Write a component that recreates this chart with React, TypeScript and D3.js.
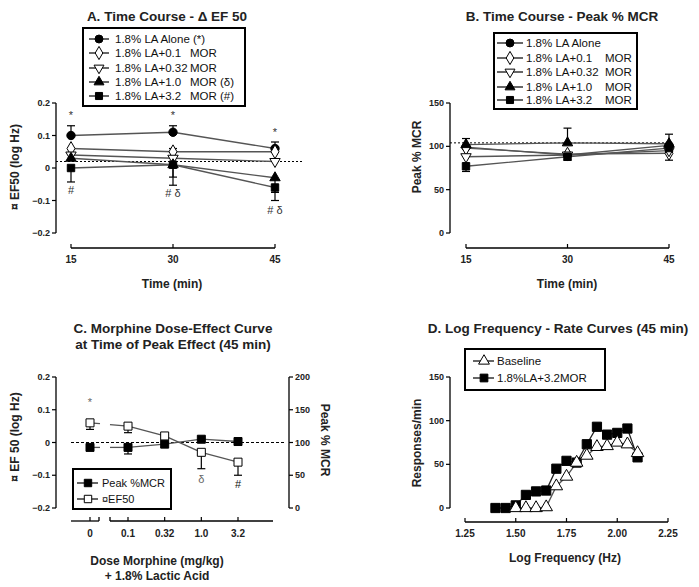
import React from "react";
import * as d3 from "d3";

// ---------- Data ----------
const timePoints = [15, 30, 45];
const seriesA = [
  { name: "1.8% LA Alone (*)", tag: "", sym: "circle", fill: true, values: [0.1, 0.11, 0.06] },
  { name: "1.8% LA+0.1", tag: "MOR", sym: "diamond", fill: false, values: [0.06, 0.05, 0.05] },
  { name: "1.8% LA+0.32", tag: "MOR", sym: "triDown", fill: false, values: [0.04, 0.03, 0.02] },
  { name: "1.8% LA+1.0", tag: "MOR (δ)", sym: "triUp", fill: true, values: [0.03, 0.01, -0.03] },
  { name: "1.8% LA+3.2", tag: "MOR (#)", sym: "square", fill: true, values: [0.0, 0.01, -0.06] },
];
// error bar ends: [seriesIndex, timeIndex, endValue]
const errorsA: [number, number, number][] = [
  [0, 0, 0.13], [0, 1, 0.13], [0, 2, 0.08],
  [1, 1, 0.06],
  [3, 1, -0.028], [3, 2, -0.075],
  [4, 0, -0.043], [4, 1, -0.053], [4, 2, -0.1],
];
const annotA: [number, number, string][] = [
  [15, 0.152, "*"], [30, 0.152, "*"], [45, 0.1, "*"],
  [15, -0.08, "#"], [30, -0.09, "# δ"], [45, -0.142, "# δ"],
];
const ticksA = [0.2, 0.1, 0, -0.1, -0.2];

const seriesB = [
  { name: "1.8% LA Alone", tag: "", sym: "circle", fill: true, values: [99, 90, 101] },
  { name: "1.8% LA+0.1", tag: "MOR", sym: "diamond", fill: false, values: [98, 91, 92] },
  { name: "1.8% LA+0.32", tag: "MOR", sym: "triDown", fill: false, values: [88, 90, 95] },
  { name: "1.8% LA+1.0", tag: "MOR", sym: "triUp", fill: true, values: [102, 104, 103] },
  { name: "1.8% LA+3.2", tag: "MOR", sym: "square", fill: true, values: [77, 88, 98] },
];
const errorsB: [number, number, number][] = [
  [3, 0, 109], [3, 1, 121], [3, 2, 114],
  [1, 2, 84], [4, 0, 71], [4, 1, 84],
];
const ticksB = [0, 50, 100, 150];

const dosesC = ["0", "0.1", "0.32", "1.0", "3.2"];
const peakMcrC = [92.5, 92.5, 97.5, 105, 101.5];
const peakMcrErrC: [number, number][] = [[1, 82.5]];
const ef50C = [0.06, 0.05, 0.02, -0.03, -0.06];
const ef50ErrC: [number, number][] = [[0, 0.04], [1, 0.03], [3, -0.08], [4, -0.1]];
const annotC: [number, number, string][] = [[0, 0.11, "*"], [3, -0.125, "δ"], [4, -0.14, "#"]];
const ticksCLeft = [0.2, 0.1, 0, -0.1, -0.2];
const ticksCRight = [0, 50, 100, 150, 200];

const freqBase = [1.5, 1.55, 1.6, 1.65, 1.7, 1.75, 1.8, 1.85, 1.9, 1.95, 2.0, 2.05, 2.1];
const rateBase = [0, 0, 0, 1, 25, 36, 52, 60, 70, 71, 75, 73, 63];
const freqDrug = [1.4, 1.45, 1.5, 1.55, 1.6, 1.65, 1.7, 1.75, 1.8, 1.85, 1.9, 1.95, 2.0, 2.05, 2.1];
const rateDrug = [0, 0, 3, 15, 19, 20, 45, 54, 52, 73, 93, 84, 86, 91, 58];
const ticksDx = [1.25, 1.5, 1.75, 2.0, 2.25];
const ticksDy = [0, 50, 100, 150];

// ---------- helpers ----------
const FONT = "'Liberation Sans', Arial, sans-serif";
const LINE = "#555";

function symPath(sym: string, size: number) {
  const t: any = {
    circle: d3.symbolCircle,
    diamond: d3.symbolDiamond,
    triUp: d3.symbolTriangle,
    triDown: d3.symbolTriangle,
    square: d3.symbolSquare,
  }[sym];
  const s = sym === "triUp" || sym === "triDown" ? size * 0.85 : size;
  return d3.symbol(t, s)()!;
}

function Marker({ x, y, sym, fill, size = 60 }: any) {
  const rot = sym === "triDown" ? ` rotate(180)` : "";
  return (
    <path
      d={symPath(sym, size)}
      transform={`translate(${x},${y})${rot}`}
      fill={fill ? "#000" : "#fff"}
      stroke="#000"
      strokeWidth={1}
    />
  );
}

function ErrBar({ x, y0, y1, cap = 8 }: any) {
  return (
    <g stroke="#000" strokeWidth={1.2}>
      <line x1={x} x2={x} y1={y0} y2={y1} />
      <line x1={x - cap / 2} x2={x + cap / 2} y1={y1} y2={y1} />
    </g>
  );
}

function YAxis({ x, scale, ticks, fmt, side = "left" }: any) {
  const [a, b] = scale.range();
  const dir = side === "left" ? -1 : 1;
  return (
    <g>
      <line x1={x} x2={x} y1={a} y2={b} stroke="#000" strokeWidth={1.3} />
      {ticks.map((t: number) => (
        <g key={t}>
          <line x1={x} x2={x + dir * 4} y1={scale(t)} y2={scale(t)} stroke="#000" strokeWidth={1.2} />
          <text
            x={x + dir * 6}
            y={scale(t) + 3}
            textAnchor={side === "left" ? "end" : "start"}
            fontSize={9}
            fontWeight="bold"
            fill="#222"
            fontFamily={FONT}
          >
            {fmt(t)}
          </text>
        </g>
      ))}
    </g>
  );
}

function XAxis({ y, scale, ticks, fmt }: any) {
  const [a, b] = scale.range();
  return (
    <g>
      <line x1={a} x2={b} y1={y} y2={y} stroke="#000" strokeWidth={1.3} />
      {ticks.map((t: number) => (
        <g key={t}>
          <line x1={scale(t)} x2={scale(t)} y1={y} y2={y - 4} stroke="#000" strokeWidth={1.2} />
          <text x={scale(t)} y={y + 15} textAnchor="middle" fontSize={10} fontWeight="bold" fill="#222" fontFamily={FONT}>
            {fmt(t)}
          </text>
        </g>
      ))}
    </g>
  );
}

function Legend({ x, y, w, h, items, lineX0, lineX1, markX, textX, tagX, rowY, size = 60, fs = 11.5 }: any) {
  return (
    <g>
      <rect x={x} y={y} width={w} height={h} fill="#fff" stroke="#000" strokeWidth={2} />
      {items.map((it: any, i: number) => (
        <g key={i}>
          <line x1={lineX0} x2={lineX1} y1={rowY[i]} y2={rowY[i]} stroke="#000" strokeWidth={1.2} />
          <Marker x={markX} y={rowY[i]} sym={it.sym} fill={it.fill} size={size} />
          <text x={textX} y={rowY[i] + 4} fontSize={fs} fill="#111" fontFamily={FONT}>
            {it.name}
          </text>
          {it.tag ? (
            <text x={tagX} y={rowY[i] + 4} fontSize={fs} fill="#111" fontFamily={FONT}>
              {it.tag}
            </text>
          ) : null}
        </g>
      ))}
    </g>
  );
}

const fmtA = (t: number) => (t === 0 ? "0" : d3.format(".1f")(t));

// ---------- Panels ----------
function PanelA() {
  const x = d3.scaleLinear().domain([15, 45]).range([71, 275]);
  const y = d3.scaleLinear().domain([-0.2, 0.2]).range([233, 103]);
  const line = d3.line<number>().x((_, i) => x(timePoints[i])).y((v) => y(v));
  return (
    <g>
      <text x={167} y={21} textAnchor="middle" fontSize={13.5} fontWeight="bold" fill="#222" fontFamily={FONT}>
        A. Time Course - Δ EF 50
      </text>
      <line x1={56} x2={302} y1={y(0.02)} y2={y(0.02)} stroke="#000" strokeDasharray="2,2" strokeWidth={1} />
      {seriesA.map((s, i) => (
        <path key={i} d={line(s.values)!} fill="none" stroke={LINE} strokeWidth={1.3} />
      ))}
      {errorsA.map(([si, ti, e], k) => (
        <ErrBar key={k} x={x(timePoints[ti])} y0={y(seriesA[si].values[ti])} y1={y(e)} />
      ))}
      {seriesA.map((s, i) =>
        s.values.map((v, j) => <Marker key={`${i}-${j}`} x={x(timePoints[j])} y={y(v)} sym={s.sym} fill={s.fill} size={55} />)
      )}
      {annotA.map(([t, v, s], k) => (
        <text key={k} x={x(t)} y={y(v)} textAnchor="middle" fontSize={11} fill="#333" fontFamily={FONT}>
          {s}
        </text>
      ))}
      <YAxis x={56} scale={y} ticks={ticksA} fmt={fmtA} />
      <XAxis y={248} scale={x} ticks={timePoints} fmt={(t: number) => String(t)} />
      <text x={172} y={288} textAnchor="middle" fontSize={12} fontWeight="bold" fill="#222" fontFamily={FONT}>
        Time (min)
      </text>
      <text transform="translate(19,167) rotate(-90)" textAnchor="middle" fontSize={12} fontWeight="bold" fill="#222" fontFamily={FONT}>
        ¤ EF50 (log Hz)
      </text>
      <Legend
        x={83} y={28} w={162} h={78} items={seriesA}
        lineX0={89} lineX1={109} markX={99} textX={115} tagX={190}
        rowY={[39, 53, 68, 82, 96]} size={50}
      />
    </g>
  );
}

function PanelB() {
  const x = d3.scaleLinear().domain([15, 45]).range([466, 669]);
  const y = d3.scaleLinear().domain([0, 150]).range([233, 103]);
  const line = d3.line<number>().x((_, i) => x(timePoints[i])).y((v) => y(v));
  return (
    <g>
      <text x={562} y={21} textAnchor="middle" fontSize={13.5} fontWeight="bold" fill="#222" fontFamily={FONT}>
        B. Time Course - Peak % MCR
      </text>
      <line x1={450} x2={670} y1={y(104)} y2={y(104)} stroke="#000" strokeDasharray="2,2" strokeWidth={1} />
      {seriesB.map((s, i) => (
        <path key={i} d={line(s.values)!} fill="none" stroke={LINE} strokeWidth={1.3} />
      ))}
      {errorsB.map(([si, ti, e], k) => (
        <ErrBar key={k} x={x(timePoints[ti])} y0={y(seriesB[si].values[ti])} y1={y(e)} />
      ))}
      {seriesB.map((s, i) =>
        s.values.map((v, j) => <Marker key={`${i}-${j}`} x={x(timePoints[j])} y={y(v)} sym={s.sym} fill={s.fill} size={55} />)
      )}
      <YAxis x={450} scale={y} ticks={ticksB} fmt={(t: number) => String(t)} />
      <XAxis y={248} scale={x} ticks={timePoints} fmt={(t: number) => String(t)} />
      <text x={567} y={288} textAnchor="middle" fontSize={12} fontWeight="bold" fill="#222" fontFamily={FONT}>
        Time (min)
      </text>
      <text transform="translate(421,157) rotate(-90)" textAnchor="middle" fontSize={12} fontWeight="bold" fill="#222" fontFamily={FONT}>
        Peak % MCR
      </text>
      <Legend
        x={494} y={33} w={143} h={76} items={seriesB}
        lineX0={497} lineX1={523} markX={510} textX={526} tagX={605}
        rowY={[43, 58, 72, 87, 100]} size={50}
      />
    </g>
  );
}

function PanelC() {
  const xPos = d3.scalePoint<string>().domain(dosesC.slice(1)).range([128, 238]);
  const xs = (i: number) => (i === 0 ? 90 : xPos(dosesC[i])!);
  const yL = d3.scaleLinear().domain([-0.2, 0.2]).range([508, 377]);
  const yR = d3.scaleLinear().domain([0, 200]).range([508, 377]);
  const gapA = 100, gapB = 110;
  const seg = (vals: number[], sc: any) => {
    const out: any[] = [];
    for (let i = 0; i < vals.length - 1; i++) {
      const x0 = xs(i), x1 = xs(i + 1), y0 = sc(vals[i]), y1 = sc(vals[i + 1]);
      if (i === 0) {
        const f = (xx: number) => y0 + ((y1 - y0) * (xx - x0)) / (x1 - x0);
        out.push(<line key={`a${i}`} x1={x0} x2={gapA} y1={y0} y2={f(gapA)} stroke={LINE} strokeWidth={1.3} />);
        out.push(<line key={`b${i}`} x1={gapB} x2={x1} y1={f(gapB)} y2={y1} stroke={LINE} strokeWidth={1.3} />);
      } else {
        out.push(<line key={`c${i}`} x1={x0} x2={x1} y1={y0} y2={y1} stroke={LINE} strokeWidth={1.3} />);
      }
    }
    return out;
  };
  const ax = 521;
  return (
    <g>
      <text x={173} y={333} textAnchor="middle" fontSize={13.5} fontWeight="bold" fill="#222" fontFamily={FONT}>
        C. Morphine Dose-Effect Curve
      </text>
      <text x={173} y={349} textAnchor="middle" fontSize={13.5} fontWeight="bold" fill="#222" fontFamily={FONT}>
        at Time of Peak Effect (45 min)
      </text>
      <line x1={71} x2={285} y1={yL(0)} y2={yL(0)} stroke="#000" strokeDasharray="3,2" strokeWidth={1} />
      {seg(peakMcrC, yR)}
      {seg(ef50C, yL)}
      {peakMcrErrC.map(([i, e], k) => (
        <ErrBar key={`p${k}`} x={xs(i)} y0={yR(peakMcrC[i])} y1={yR(e)} />
      ))}
      {ef50ErrC.map(([i, e], k) => (
        <ErrBar key={`e${k}`} x={xs(i)} y0={yL(ef50C[i])} y1={yL(e)} />
      ))}
      {peakMcrC.map((v, i) => (
        <Marker key={`pm${i}`} x={xs(i)} y={yR(v)} sym="square" fill={true} size={64} />
      ))}
      {ef50C.map((v, i) => (
        <Marker key={`em${i}`} x={xs(i)} y={yL(v)} sym="square" fill={false} size={64} />
      ))}
      {annotC.map(([i, v, s], k) => (
        <text key={k} x={xs(i)} y={yL(v)} textAnchor="middle" fontSize={11} fill={s === "#" ? "#111" : "#666"} fontFamily={FONT}>
          {s}
        </text>
      ))}
      <YAxis x={56} scale={yL} ticks={ticksCLeft} fmt={fmtA} />
      <YAxis x={289} scale={yR} ticks={ticksCRight} fmt={(t: number) => String(t)} side="right" />
      {/* broken x axis */}
      <g stroke="#000" strokeWidth={1.3}>
        <line x1={71} x2={99} y1={ax} y2={ax} />
        <line x1={99} x2={99} y1={ax} y2={ax - 4} />
        <line x1={110} x2={273} y1={ax} y2={ax} />
        <line x1={110} x2={110} y1={ax} y2={ax - 4} />
      </g>
      {dosesC.map((d, i) => (
        <g key={d}>
          <line x1={xs(i)} x2={xs(i)} y1={ax} y2={ax - 4} stroke="#000" strokeWidth={1.2} />
          <text x={xs(i)} y={ax + 16} textAnchor="middle" fontSize={10} fontWeight="bold" fill="#222" fontFamily={FONT}>
            {d}
          </text>
        </g>
      ))}
      <text x={157} y={565} textAnchor="middle" fontSize={12} fontWeight="bold" fill="#222" fontFamily={FONT}>
        Dose Morphine (mg/kg)
      </text>
      <text x={157} y={580} textAnchor="middle" fontSize={12} fontWeight="bold" fill="#222" fontFamily={FONT}>
        + 1.8% Lactic Acid
      </text>
      <text transform="translate(19,437) rotate(-90)" textAnchor="middle" fontSize={12} fontWeight="bold" fill="#222" fontFamily={FONT}>
        ¤ EF 50 (log Hz)
      </text>
      <text transform="translate(321,440) rotate(90)" textAnchor="middle" fontSize={12} fontWeight="bold" fill="#222" fontFamily={FONT}>
        Peak % MCR
      </text>
      <Legend
        x={73} y={469} w={98} h={40}
        items={[
          { name: "Peak %MCR", tag: "", sym: "square", fill: true },
          { name: "¤EF50", tag: "", sym: "square", fill: false },
        ]}
        lineX0={77} lineX1={98} markX={88} textX={102} tagX={0}
        rowY={[483, 499]} size={55} fs={11}
      />
    </g>
  );
}

function PanelD() {
  const x = d3.scaleLinear().domain([1.25, 2.25]).range([465, 668]);
  const y = d3.scaleLinear().domain([0, 150]).range([508, 377]);
  const pathOf = (fx: number[], ry: number[]) =>
    d3.line<number>().x((_, i) => x(fx[i])).y((_, i) => y(ry[i]))(fx)!;
  return (
    <g>
      <text x={558} y={333} textAnchor="middle" fontSize={13.5} fontWeight="bold" fill="#222" fontFamily={FONT}>
        D. Log Frequency - Rate Curves (45 min)
      </text>
      <path d={pathOf(freqBase, rateBase)} fill="none" stroke={LINE} strokeWidth={1.3} />
      <path d={pathOf(freqDrug, rateDrug)} fill="none" stroke="#222" strokeWidth={1.3} />
      {freqDrug.map((f, i) => (
        <Marker key={`d${i}`} x={x(f)} y={y(rateDrug[i])} sym="square" fill={true} size={85} />
      ))}
      {freqBase.map((f, i) => (
        <Marker key={`b${i}`} x={x(f)} y={y(rateBase[i])} sym="triUp" fill={false} size={80} />
      ))}
      <YAxis x={450} scale={y} ticks={ticksDy} fmt={(t: number) => String(t)} />
      <XAxis y={522} scale={x} ticks={ticksDx} fmt={d3.format(".2f")} />
      <text x={565} y={562} textAnchor="middle" fontSize={12} fontWeight="bold" fill="#222" fontFamily={FONT}>
        Log Frequency (Hz)
      </text>
      <text transform="translate(421,443) rotate(-90)" textAnchor="middle" fontSize={12} fontWeight="bold" fill="#222" fontFamily={FONT}>
        Responses/min
      </text>
      <Legend
        x={465} y={349} w={140} h={41}
        items={[
          { name: "Baseline", tag: "", sym: "triUp", fill: false },
          { name: "1.8%LA+3.2MOR", tag: "", sym: "square", fill: true },
        ]}
        lineX0={473} lineX1={494} markX={484} textX={497} tagX={0}
        rowY={[361, 378]} size={60} fs={11.5}
      />
    </g>
  );
}

export default function App() {
  return (
    <svg
      width={699}
      height={587}
      viewBox="0 0 699 587"
      style={{ position: "absolute", left: 0, top: 0, background: "#fff" }}
      fontFamily={FONT}
    >
      <rect x={0} y={0} width={699} height={587} fill="#fff" />
      <PanelA />
      <PanelB />
      <PanelC />
      <PanelD />
    </svg>
  );
}
